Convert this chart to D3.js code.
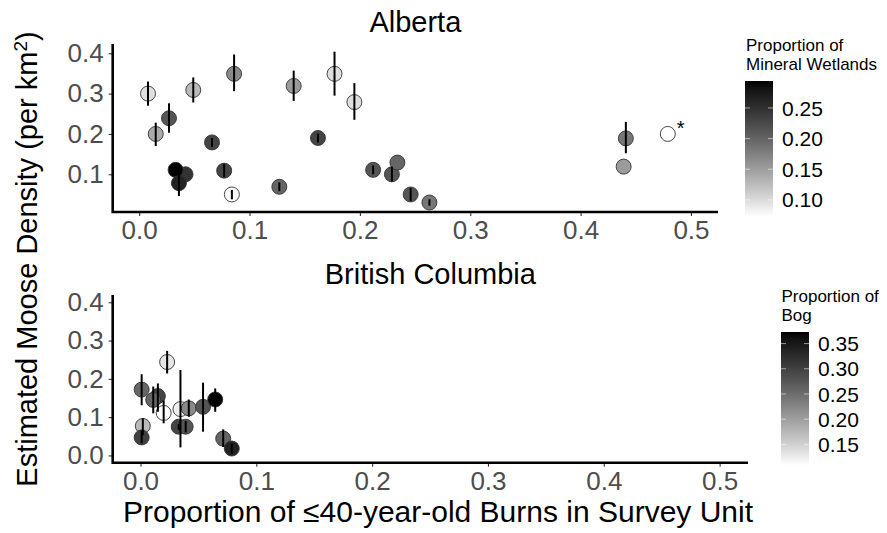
<!DOCTYPE html>
<html>
<head>
<meta charset="utf-8">
<script src="https://cdn.jsdelivr.net/npm/d3@7"></script>
<style>
  body { margin: 0; background: #fff; }
  svg { display: block; font-family: "Liberation Sans", Arial, sans-serif; }
</style>
</head>
<body>
<div id="chart"></div>
<script>
// moose density vs burn proportion, two provinces
const xTicks = [0, 0.1, 0.2, 0.3, 0.4, 0.5];

// Alberta
const abBurn    = [0.008, 0.015, 0.027, 0.042, 0.033, 0.036, 0.049, 0.066, 0.077, 0.086, 0.084, 0.127, 0.140, 0.162, 0.177, 0.195, 0.212, 0.229, 0.234, 0.246, 0.263, 0.441, 0.439, 0.479];
const abDensity = [0.300, 0.200, 0.239, 0.100, 0.111, 0.078, 0.309, 0.179, 0.109, 0.349, 0.050, 0.069, 0.319, 0.190, 0.349, 0.279, 0.111, 0.100, 0.129, 0.050, 0.030, 0.189, 0.119, 0.200];
const abLow     = [0.270, 0.170, 0.203, null, null, 0.046, 0.278, 0.168, 0.093, 0.306, 0.038, 0.058, 0.282, 0.179, 0.295, 0.235, 0.100, 0.082, null, 0.034, 0.022, 0.152, null, null];
const abHigh    = [0.330, 0.228, 0.276, null, null, 0.110, 0.340, 0.190, 0.126, 0.397, 0.061, 0.080, 0.357, 0.201, 0.404, 0.326, 0.122, 0.119, null, 0.066, 0.038, 0.230, null, null];
const abMineral = [0.097, 0.139, 0.214, 0.247, 0.294, 0.265, 0.126, 0.230, 0.230, 0.167, 0.075, 0.198, 0.152, 0.230, 0.097, 0.097, 0.214, 0.214, 0.198, 0.214, 0.183, 0.183, 0.152, 0.072];
const abYTicks = [0.1, 0.2, 0.3, 0.4];
const abLegendTicks = [0.10, 0.15, 0.20, 0.25];

// British Columbia
const bcBurn    = [0.001, 0.002, 0.001, 0.015, 0.011, 0.023, 0.020, 0.033, 0.0345, 0.039, 0.0417, 0.054, 0.0645, 0.0714, 0.0788];
const bcDensity = [0.172, 0.077, 0.047, 0.155, 0.145, 0.244, 0.111, 0.075, 0.121, 0.075, 0.123, 0.127, 0.146, 0.044, 0.018];
const bcLow     = [0.131, 0.053, 0.032, 0.114, 0.110, 0.214, 0.084, 0.067, 0.021, 0.060, 0.101, 0.062, 0.114, 0.022, 0.005];
const bcHigh    = [0.212, 0.097, 0.066, 0.188, 0.180, 0.273, 0.144, 0.082, 0.223, 0.090, 0.146, 0.190, 0.175, 0.068, 0.031];
const bcBog     = [0.259, 0.172, 0.300, 0.296, 0.259, 0.131, 0.107, 0.296, 0.123, 0.277, 0.221, 0.277, 0.373, 0.259, 0.338];
const bcYTicks = [0, 0.1, 0.2, 0.3, 0.4];
const bcLegendTicks = [0.15, 0.20, 0.25, 0.30, 0.35];

const W = 887, H = 533;
const svg = d3.select('#chart').append('svg').attr('width', W).attr('height', H);
svg.append('rect').attr('width', W).attr('height', H).attr('fill', '#fff');
const fmt1 = d3.format('.1f'), fmt2 = d3.format('.2f');

function panel(o) {
  const x = d3.scaleLinear().domain([-0.024, 0.5245]).range([o.left, o.right]);
  const y = d3.scaleLinear().domain(o.yDomain).range([o.bottom, o.top]);
  const vals = o.fill;
  const color = d3.scaleLinear().domain(d3.extent(vals)).range(['white', 'black']).interpolate(d3.interpolateLab);
  const rows = o.burn.map((b, i) => ({b, d: o.dens[i], lo: o.lo[i], hi: o.hi[i], f: vals[i]}));
  const g = svg.append('g');

  // axes
  const xa = g.append('g').attr('transform', `translate(0,${o.bottom})`)
    .call(d3.axisBottom(x).tickValues(xTicks).tickFormat(fmt1).tickSize(4).tickPadding(5));
  const ya = g.append('g').attr('transform', `translate(${o.left},0)`)
    .call(d3.axisLeft(y).tickValues(o.yTicks).tickFormat(fmt1).tickSize(4).tickPadding(5));
  [xa, ya].forEach(a => {
    a.select('.domain').remove();
    a.selectAll('line').attr('stroke', '#333').attr('stroke-width', 1.1);
    a.selectAll('text').attr('fill', '#4d4d4d').style('font-size', '26px').style('font-family', '"Liberation Sans", Arial, sans-serif');
  });
  g.append('path')
    .attr('d', `M${o.left},${o.top}V${o.bottom}H${o.right}`)
    .attr('fill', 'none').attr('stroke', '#000').attr('stroke-width', 2.6);

  // points, then error bars on top
  g.append('g').selectAll('circle').data(rows).join('circle')
    .attr('cx', d => x(d.b)).attr('cy', d => y(d.d)).attr('r', 7.5)
    .attr('fill', d => color(d.f)).attr('stroke', '#333').attr('stroke-width', 0.9);
  g.append('g').selectAll('line').data(rows.filter(d => d.lo != null)).join('line')
    .attr('x1', d => x(d.b)).attr('x2', d => x(d.b))
    .attr('y1', d => y(d.lo)).attr('y2', d => y(d.hi))
    .attr('stroke', '#000').attr('stroke-width', 2);

  // title
  g.append('text').attr('x', (o.left + o.right) / 2).attr('y', o.titleY)
    .attr('text-anchor', 'middle').style('font-size', '29px').text(o.title);

  // colour bar legend
  const lg = svg.append('g');
  const id = 'grad' + o.key;
  const grad = svg.append('defs').append('linearGradient').attr('id', id)
    .attr('x1', 0).attr('y1', 1).attr('x2', 0).attr('y2', 0);
  const ext = d3.extent(vals);
  d3.range(0, 1.0001, 0.05).forEach(t => {
    grad.append('stop').attr('offset', t).attr('stop-color', color(ext[0] + t * (ext[1] - ext[0])));
  });
  const ly = d3.scaleLinear().domain(ext).range([o.leg.bottom, o.leg.top]);
  lg.append('rect').attr('x', o.leg.x).attr('y', o.leg.top)
    .attr('width', 28).attr('height', o.leg.bottom - o.leg.top).attr('fill', `url(#${id})`);
  o.legTicks.forEach(v => {
    [[o.leg.x, o.leg.x + 5], [o.leg.x + 23, o.leg.x + 28]].forEach(([a, b]) => {
      lg.append('line').attr('x1', a).attr('x2', b).attr('y1', ly(v)).attr('y2', ly(v))
        .attr('stroke', '#fff').attr('stroke-opacity', 0.55).attr('stroke-width', 1);
    });
    lg.append('text').attr('x', o.leg.x + 37).attr('y', ly(v)).attr('dy', '0.36em')
      .style('font-size', '21px').attr('fill', '#000').text(fmt2(v));
  });
  o.legTitle.forEach((t, i) => {
    lg.append('text').attr('x', o.leg.titleX).attr('y', o.leg.titleY + i * 18.5)
      .style('font-size', '17px').text(t);
  });
  return {x, y};
}

const ab = panel({
  key: 'ab', title: 'Alberta', titleY: 32,
  left: 112.7, right: 718, top: 44, bottom: 212, yDomain: [0.0065, 0.423], yTicks: abYTicks,
  burn: abBurn, dens: abDensity, lo: abLow, hi: abHigh, fill: abMineral,
  legTicks: abLegendTicks, legTitle: ['Proportion of', 'Mineral Wetlands'],
  leg: {x: 745, top: 81, bottom: 217, titleX: 746, titleY: 51}
});

// asterisk beside the open Alberta point
svg.append('text')
  .attr('x', ab.x(abBurn[23]) + 9).attr('y', ab.y(abDensity[23]) + 1)
  .style('font-size', '20px').text('*');

panel({
  key: 'bc', title: 'British Columbia', titleY: 284,
  left: 112.7, right: 748, top: 295, bottom: 462.7, yDomain: [-0.019, 0.419], yTicks: bcYTicks,
  burn: bcBurn, dens: bcDensity, lo: bcLow, hi: bcHigh, fill: bcBog,
  legTicks: bcLegendTicks, legTitle: ['Proportion of', 'Bog'],
  leg: {x: 781, top: 332, bottom: 466, titleX: 781.5, titleY: 302}
});

// shared axis titles
svg.append('text').attr('x', 438).attr('y', 522).attr('text-anchor', 'middle')
  .style('font-size', '30px').text('Proportion of \u226440-year-old Burns in Survey Unit');
const yt = svg.append('text').attr('transform', 'translate(37,259) rotate(-90)')
  .attr('text-anchor', 'middle').style('font-size', '29px');
yt.append('tspan').text('Estimated Moose Density (per km');
yt.append('tspan').attr('baseline-shift', 'super').style('font-size', '19px').text('2');
yt.append('tspan').text(')');
</script>
</body>
</html>
